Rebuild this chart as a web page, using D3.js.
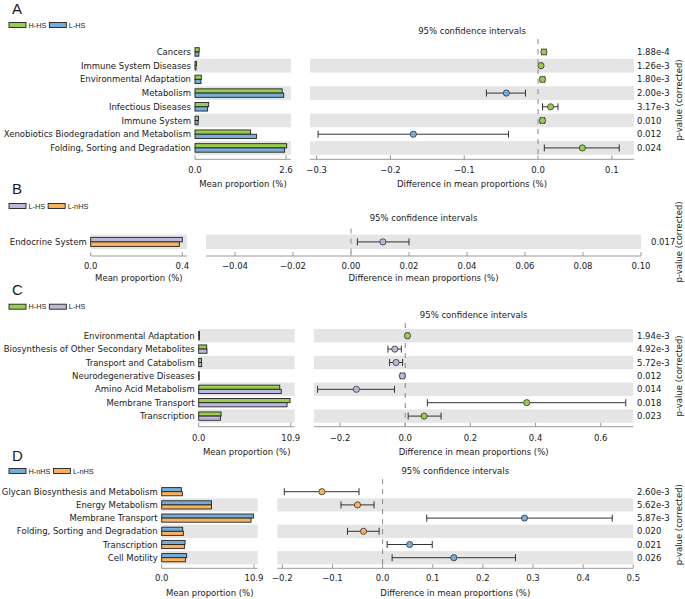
<!DOCTYPE html>
<html><head><meta charset="utf-8">
<script src="https://cdn.jsdelivr.net/npm/d3@7"></script>
<style>
body{margin:0;background:#fff}
svg{display:block}
text{font-family:"DejaVu Sans",sans-serif;fill:#1a1a1a}
</style>
</head><body>
<svg id="chart" width="685" height="599"></svg>
<script>
// ---------------- DATA ----------------
const colorGreen = "#9acd4e", colorBlue = "#76aed9", colorOrange = "#f8b25c", colorPurple = "#bcb8db";

// Panel A
const aGroups = ["H-HS", "L-HS"];
const aCategories = ["Cancers","Immune System Diseases","Environmental Adaptation","Metabolism","Infectious Diseases","Immune System","Xenobiotics Biodegradation and Metabolism","Folding, Sorting and Degradation"];
const aMean1 = [0.12, 0.04, 0.18, 2.49, 0.39, 0.10, 1.59, 2.62];
const aMean2 = [0.11, 0.03, 0.17, 2.535, 0.36, 0.09, 1.76, 2.56];
const aDiff  = [0.008, 0.004, 0.006, -0.043, 0.017, 0.006, -0.169, 0.060];
const aLow   = [0.005, 0.003, 0.003, -0.070, 0.006, 0.003, -0.298, 0.0085];
const aHigh  = [0.011, 0.005, 0.009, -0.017, 0.027, 0.009, -0.040, 0.110];
const aPval  = ["1.88e-4","1.26e-3","1.80e-3","2.00e-3","3.17e-3","0.010","0.012","0.024"];
const aBarTicks = [0, 2.6];
const aDiffTicks = [-0.3, -0.2, -0.1, 0.0, 0.1];

// Panel B
const bGroups = ["L-HS", "L-nHS"];
const bCategories = ["Endocrine System"];
const bMean1 = [0.40];
const bMean2 = [0.387];
const bDiff  = [0.011];
const bLow   = [0.0022];
const bHigh  = [0.020];
const bPval  = ["0.017"];
const bBarTicks = [0, 0.4];
const bDiffTicks = [-0.04, -0.02, 0.00, 0.02, 0.04, 0.06, 0.08, 0.10];

// Panel C
const cGroups = ["H-HS", "L-HS"];
const cCategories = ["Environmental Adaptation","Biosynthesis of Other Secondary Metabolites","Transport and Catabolism","Neurodegenerative Diseases","Amino Acid Metabolism","Membrane Transport","Transcription"];
const cMean1 = [0.09, 0.95, 0.32, 0.05, 9.60, 10.82, 2.65];
const cMean2 = [0.08, 0.98, 0.35, 0.06, 9.78, 10.46, 2.57];
const cDiff  = [0.007, -0.032, -0.028, -0.009, -0.150, 0.373, 0.058];
const cLow   = [0.003, -0.053, -0.048, -0.015, -0.269, 0.068, 0.009];
const cHigh  = [0.011, -0.012, -0.008, -0.003, -0.033, 0.677, 0.110];
const cPval  = ["1.94e-3","4.92e-3","5.72e-3","0.012","0.014","0.018","0.023"];
const cBarTicks = [0, 10.9];
const cDiffTicks = [-0.2, 0.0, 0.2, 0.4, 0.6];

// Panel D
const dGroups = ["H-nHS", "L-nHS"];
const dCategories = ["Glycan Biosynthesis and Metabolism","Energy Metabolism","Membrane Transport","Folding, Sorting and Degradation","Transcription","Cell Motility"];
const dMean1 = [2.32, 5.87, 10.83, 2.48, 2.76, 2.95];
const dMean2 = [2.44, 5.88, 10.55, 2.56, 2.68, 2.80];
const dDiff  = [-0.121, -0.050, 0.283, -0.038, 0.054, 0.142];
const dLow   = [-0.196, -0.083, 0.088, -0.070, 0.009, 0.019];
const dHigh  = [-0.047, -0.017, 0.458, -0.007, 0.099, 0.265];
const dPval  = ["2.60e-3","5.62e-3","5.87e-3","0.020","0.021","0.026"];
const dBarTicks = [0, 10.9];
const dDiffTicks = [-0.2, -0.1, 0.0, 0.1, 0.2, 0.3, 0.4, 0.5];

// ---------------- LAYOUT ----------------
const panels = [
  {letter:"A", letterY:13.5, legY:25, groups:aGroups, colors:[colorGreen,colorBlue],
   cats:aCategories, m1:aMean1, m2:aMean2, diff:aDiff, low:aLow, high:aHigh, pval:aPval,
   barTicks:aBarTicks, barFmt:".1f", diffTicks:aDiffTicks, diffFmt:".1f",
   rowTop:45.1, rowH:13.71, spineY:159.3, titleY:31, tickY:169.5, labelY:183.5,
   barX:[195,291], barMax:2.743, diffX:[310,634], diffDom:[-0.309,0.130], pX:637},
  {letter:"B", letterY:194, legY:206, groups:bGroups, colors:[colorPurple,colorOrange],
   cats:bCategories, m1:bMean1, m2:bMean2, diff:bDiff, low:bLow, high:bHigh, pval:bPval,
   barTicks:bBarTicks, barFmt:".1f", diffTicks:bDiffTicks, diffFmt:".2f",
   rowTop:234.6, rowH:14.6, spineY:256, titleY:218, tickY:266, labelY:278,
   barX:[90.7,187], barMax:0.4205, diffX:[206,641], diffDom:[-0.05,0.10], pX:651},
  {letter:"C", letterY:295, legY:306.7, groups:cGroups, colors:[colorGreen,colorPurple],
   cats:cCategories, m1:cMean1, m2:cMean2, diff:cDiff, low:cLow, high:cHigh, pval:cPval,
   barTicks:cBarTicks, barFmt:".1f", diffTicks:cDiffTicks, diffFmt:".1f",
   rowTop:329, rowH:13.4, spineY:426.7, titleY:315, tickY:438, labelY:452.3,
   barX:[198.7,294.7], barMax:11.37, diffX:[314,633.3], diffDom:[-0.28,0.70], pX:637},
  {letter:"D", letterY:461, legY:471, groups:dGroups, colors:[colorBlue,colorOrange],
   cats:dCategories, m1:dMean1, m2:dMean2, diff:dDiff, low:dLow, high:dHigh, pval:dPval,
   barTicks:dBarTicks, barFmt:".1f", diffTicks:dDiffTicks, diffFmt:".1f",
   rowTop:485.1, rowH:13.2, spineY:568.3, titleY:471, tickY:578.3, labelY:592.7,
   barX:[161.7,257.7], barMax:11.34, diffX:[277.3,633.3], diffDom:[-0.21,0.50], pX:637}
];

const svg = d3.select("#chart");
const FS = "8.5px";
const bandColor = "#e5e5e5", spineColor = "#999", edge = "#222", errColor = "#333";

function drawAxis(g, scale, ticks, fmt, y, tickY) {
  const r = scale.range();
  g.append("line").attr("x1", r[0]).attr("x2", r[1]).attr("y1", y).attr("y2", y)
    .attr("stroke", spineColor).attr("stroke-width", 1);
  const f = d3.format(fmt);
  ticks.forEach(t => {
    const x = scale(t);
    g.append("line").attr("x1", x).attr("x2", x).attr("y1", y).attr("y2", y - 4)
      .attr("stroke", spineColor).attr("stroke-width", 1);
    g.append("text").attr("x", x).attr("y", tickY).attr("text-anchor", "middle")
      .attr("dominant-baseline", "central").style("font-size", FS).text(f(t));
  });
}

panels.forEach(p => {
  const g = svg.append("g");
  const n = p.cats.length;
  // panel letter
  g.append("text").attr("x", 12).attr("y", p.letterY).text(p.letter)
    .style("font-family", "'Liberation Sans',Arial,sans-serif").style("font-size", "15px");
  // legend
  let lx = 9;
  p.groups.forEach((name, i) => {
    g.append("rect").attr("x", lx).attr("y", p.legY - 2.5).attr("width", 17).attr("height", 5)
      .attr("fill", p.colors[i]).attr("stroke", edge).attr("stroke-width", 0.9);
    const t = g.append("text").attr("x", lx + 19.5).attr("y", p.legY).attr("dominant-baseline", "central")
      .style("font-family", "'Liberation Sans',Arial,sans-serif").style("font-size", "7.3px").text(name);
    lx += 19.5 + t.node().getComputedTextLength() + 3;
  });

  const y = d3.scaleBand().domain(p.cats).range([p.rowTop, p.rowTop + p.rowH * n]);
  const xb = d3.scaleLinear().domain([0, p.barMax]).range(p.barX);
  const xd = d3.scaleLinear().domain(p.diffDom).range(p.diffX);

  // bands
  p.cats.forEach((c, i) => {
    if ((n - 1 - i) % 2 === 0) {
      g.append("rect").attr("x", p.barX[0]).attr("y", y(c)).attr("width", p.barX[1] - p.barX[0])
        .attr("height", y.bandwidth()).attr("fill", bandColor);
      g.append("rect").attr("x", p.diffX[0]).attr("y", y(c)).attr("width", p.diffX[1] - p.diffX[0])
        .attr("height", y.bandwidth()).attr("fill", bandColor);
    }
  });

  // bars
  const bh = y.bandwidth() * 0.31;
  p.cats.forEach((c, i) => {
    const cy = y(c) + y.bandwidth() / 2;
    [p.m1[i], p.m2[i]].forEach((v, k) => {
      g.append("rect").attr("x", xb(0)).attr("y", k === 0 ? cy - bh : cy)
        .attr("width", Math.max(xb(v) - xb(0), 0.5)).attr("height", bh)
        .attr("fill", p.colors[k]).attr("stroke", edge).attr("stroke-width", 0.9);
    });
    g.append("text").attr("x", p.barX[0] - 4).attr("y", cy).attr("text-anchor", "end")
      .attr("dominant-baseline", "central").style("font-size", FS).text(c);
    g.append("text").attr("x", p.pX).attr("y", cy)
      .attr("dominant-baseline", "central").style("font-size", FS).text(p.pval[i]);
  });

  // zero dashed line
  g.append("line").attr("x1", xd(0)).attr("x2", xd(0)).attr("y1", p.rowTop - 6).attr("y2", p.spineY)
    .attr("stroke", "#888").attr("stroke-width", 1).attr("stroke-dasharray", "5,5");

  // error bars and points
  p.cats.forEach((c, i) => {
    const cy = y(c) + y.bandwidth() / 2;
    const x1 = xd(p.low[i]), x2 = xd(p.high[i]);
    g.append("line").attr("x1", x1).attr("x2", x2).attr("y1", cy).attr("y2", cy)
      .attr("stroke", errColor).attr("stroke-width", 1);
    [x1, x2].forEach(x => g.append("line").attr("x1", x).attr("x2", x).attr("y1", cy - 3.5).attr("y2", cy + 3.5)
      .attr("stroke", errColor).attr("stroke-width", 1));
    g.append("circle").attr("cx", xd(p.diff[i])).attr("cy", cy).attr("r", 3.1)
      .attr("fill", p.diff[i] >= 0 ? p.colors[0] : p.colors[1])
      .attr("stroke", errColor).attr("stroke-width", 0.8);
  });

  // axes
  drawAxis(g, xb, p.barTicks, p.barFmt, p.spineY, p.tickY);
  drawAxis(g, xd, p.diffTicks, p.diffFmt, p.spineY, p.tickY);

  // titles
  g.append("text").attr("x", (p.barX[0] + p.barX[1]) / 2).attr("y", p.labelY).attr("text-anchor", "middle")
    .attr("dominant-baseline", "central").style("font-size", FS).text("Mean proportion (%)");
  g.append("text").attr("x", (p.diffX[0] + p.diffX[1]) / 2).attr("y", p.labelY).attr("text-anchor", "middle")
    .attr("dominant-baseline", "central").style("font-size", FS).text("Difference in mean proportions (%)");
  g.append("text").attr("x", (p.diffX[0] + p.diffX[1]) / 2).attr("y", p.titleY).attr("text-anchor", "middle")
    .attr("dominant-baseline", "central").style("font-size", FS).text("95% confidence intervals");
  const cyMid = p.rowTop + p.rowH * n / 2;
  g.append("text").attr("transform", `translate(679,${cyMid}) rotate(-90)`).attr("text-anchor", "middle")
    .attr("dominant-baseline", "central").style("font-size", FS).text("p-value (corrected)");
});
</script>
</body></html>
